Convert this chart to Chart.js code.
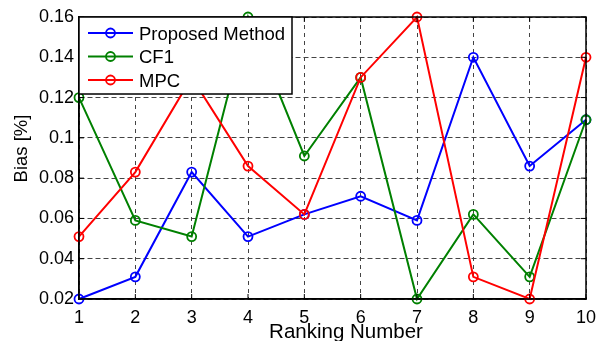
<!DOCTYPE html>
<html>
<head>
<meta charset="utf-8">
<script src="https://cdn.jsdelivr.net/npm/chart.js@4"></script>
<style>
  html, body { margin: 0; padding: 0; background: #fff; }
  #wykres { display: block; }
</style>
</head>
<body>
<canvas id="wykres" width="597" height="341"></canvas>
<script>
// ranking positions on the x axis
const rankings = ['1', '2', '3', '4', '5', '6', '7', '8', '9', '10'];

// bias values
const proposedMethod = [0.02, 0.031, 0.083, 0.051, 0.062, 0.071, 0.059, 0.14, 0.086, 0.109];
const cf1 = [0.12, 0.059, 0.051, 0.16, 0.091, 0.13, 0.02, 0.062, 0.031, 0.109];
const mpc = [0.051, 0.083, 0.13, 0.086, 0.062, 0.13, 0.16, 0.031, 0.02, 0.14];

const yTicks = [0.02, 0.04, 0.06, 0.08, 0.1, 0.12, 0.14, 0.16];
const yTickLabels = ['0.02', '0.04', '0.06', '0.08', '0.1', '0.12', '0.14', '0.16'];

const FONT = "'Liberation Sans', Arial, sans-serif";

function series(label, data, color, order) {
  return {
    label: label,
    data: data,
    borderColor: color,
    backgroundColor: color,
    borderWidth: 2,
    pointRadius: 4.5,
    pointBorderWidth: 1.8,
    pointBorderColor: color,
    pointBackgroundColor: 'rgba(0,0,0,0)',
    pointStyle: 'circle',
    tension: 0,
    clip: false,
    order: order,
  };
}

// MATLAB-ish frame, inward ticks, axis titles and boxed legend
const matlabLook = {
  id: 'matlabLook',
  afterDraw(chart) {
    const ctx = chart.ctx;
    const area = chart.chartArea;
    const xs = chart.scales.x;
    const ys = chart.scales.y;

    ctx.save();
    ctx.strokeStyle = '#000';
    ctx.lineWidth = 1.5;
    ctx.strokeRect(area.left, area.top, area.right - area.left, area.bottom - area.top);

    // inward tick marks on all four sides
    ctx.lineWidth = 1;
    ctx.beginPath();
    rankings.forEach((r, i) => {
      const px = xs.getPixelForValue(i);
      ctx.moveTo(px, area.bottom); ctx.lineTo(px, area.bottom - 5);
      ctx.moveTo(px, area.top); ctx.lineTo(px, area.top + 5);
    });
    yTicks.forEach(v => {
      const py = ys.getPixelForValue(v);
      ctx.moveTo(area.left, py); ctx.lineTo(area.left + 5, py);
      ctx.moveTo(area.right, py); ctx.lineTo(area.right - 5, py);
    });
    ctx.stroke();

    // axis titles
    ctx.fillStyle = '#000';
    ctx.textAlign = 'center';
    ctx.textBaseline = 'alphabetic';
    ctx.font = '20.5px ' + FONT;
    ctx.fillText('Ranking Number', 346, 337.5);
    ctx.save();
    ctx.translate(27, 148.5);
    ctx.rotate(-Math.PI / 2);
    ctx.font = '18.5px ' + FONT;
    ctx.fillText('Bias [%]', 0, 0);
    ctx.restore();

    // legend box
    const lx = area.left, ly = area.top, lw = 213, lh = 77;
    ctx.fillStyle = '#fff';
    ctx.fillRect(lx, ly, lw, lh);
    ctx.strokeStyle = '#000';
    ctx.lineWidth = 1.5;
    ctx.strokeRect(lx, ly, lw, lh);
    const rows = [33, 56.5, 80];
    ctx.font = '18.5px ' + FONT;
    ctx.textAlign = 'left';
    chart.data.datasets.forEach((ds, i) => {
      const y = rows[i];
      ctx.strokeStyle = ds.borderColor;
      ctx.lineWidth = 2;
      ctx.beginPath();
      ctx.moveTo(lx + 9, y); ctx.lineTo(lx + 54, y);
      ctx.stroke();
      ctx.lineWidth = 1.8;
      ctx.beginPath();
      ctx.arc(lx + 31.5, y, 4.5, 0, Math.PI * 2);
      ctx.stroke();
      ctx.fillStyle = '#000';
      ctx.fillText(ds.label, lx + 60, y + 6.5);
    });
    ctx.restore();
  }
};

new Chart(document.getElementById('wykres').getContext('2d'), {
  type: 'line',
  data: {
    labels: rankings,
    datasets: [
      series('Proposed Method', proposedMethod, '#0000ff', 3),
      series('CF1', cf1, '#008000', 2),
      series('MPC', mpc, '#ff0000', 1),
    ],
  },
  options: {
    responsive: false,
    animation: false,
    events: [],
    layout: { padding: { left: 0, top: 17, right: 11, bottom: 0 } },
    plugins: {
      legend: { display: false },
      tooltip: { enabled: false },
    },
    scales: {
      x: {
        type: 'category',
        offset: false,
        afterFit: s => { s.height = 42; s.paddingLeft = 0; s.paddingRight = 0; },
        grid: { color: '#444', lineWidth: 1, drawTicks: false },
        border: { display: true, color: '#000', width: 1.5, dash: [4, 4] },
        ticks: { color: '#000', font: { family: FONT, size: 18 }, padding: 8, maxRotation: 0, autoSkip: false },
      },
      y: {
        min: 0.02,
        max: 0.16,
        afterFit: s => { s.width = 79; s.paddingTop = 0; s.paddingBottom = 0; },
        afterBuildTicks: s => { s.ticks = yTicks.map(v => ({ value: v })); },
        grid: { color: '#444', lineWidth: 1, drawTicks: false },
        border: { display: true, color: '#000', width: 1.5, dash: [5, 3] },
        ticks: {
          color: '#000',
          font: { family: FONT, size: 18 },
          padding: 5,
          callback: (v, i) => yTickLabels[i],
        },
      },
    },
  },
  plugins: [matlabLook],
});
</script>
</body>
</html>
